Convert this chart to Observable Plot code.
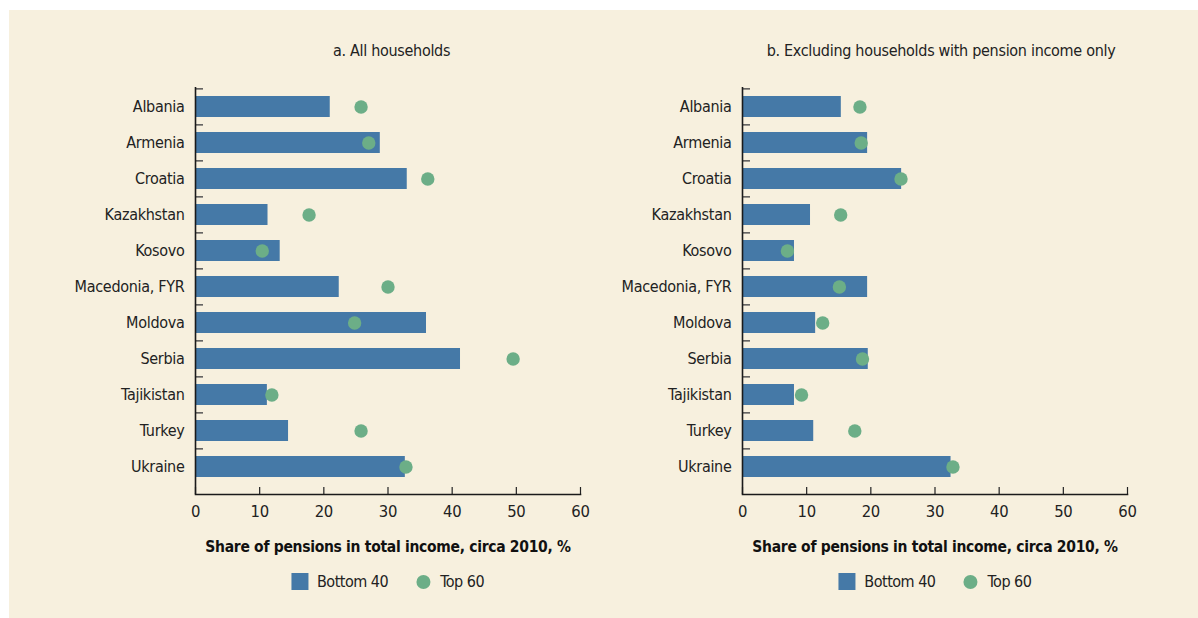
<!DOCTYPE html>
<html>
<head>
<meta charset="utf-8">
<script src="https://cdn.jsdelivr.net/npm/d3@7"></script>
<script src="https://cdn.jsdelivr.net/npm/@observablehq/plot@0.6"></script>
<style>
  html, body { margin: 0; padding: 0; background: #ffffff; }
  body { width: 1198px; height: 618px; position: relative; overflow: hidden;
         font-family: "Liberation Sans Narrow", "DejaVu Sans Condensed", "Roboto Condensed", Roboto, sans-serif; }
  #bg { position: absolute; left: 9px; top: 10px; width: 1189px; height: 608px; background: #f7f0de; }
  .panel { position: absolute; top: 0; }
  .panel svg text { letter-spacing: -0.3px; }
  .panel svg text.axis-title { letter-spacing: -0.45px; }
  .legend { position: absolute; top: 572px; display: flex; align-items: center; transform: translateX(-50%);
            font-size: 16px; letter-spacing: -0.5px; color: #222; white-space: nowrap; }
  .sw-bar { width: 17px; height: 17px; background: #4579a7; margin-right: 9px; }
  .sw-dot { width: 14px; height: 14px; border-radius: 50%; background: #6cae87; margin-left: 28px; margin-right: 10px; }
</style>
</head>
<body>
<div id="bg"></div>
<div id="root"></div>
<script>
// ---- data ----
const countries = ["Albania", "Armenia", "Croatia", "Kazakhstan", "Kosovo", "Macedonia, FYR",
                   "Moldova", "Serbia", "Tajikistan", "Turkey", "Ukraine"];
const allBottom40  = [21.0, 28.8, 33.0, 11.3, 13.2, 22.4, 36.0, 41.3, 11.2, 14.5, 32.7];
const allTop60     = [25.8, 27.0, 36.2, 17.7, 10.4, 30.0, 24.8, 49.5, 11.9, 25.8, 32.8];
const exclBottom40 = [15.4, 19.5, 24.8, 10.6, 8.1, 19.5, 11.4, 19.6, 8.1, 11.1, 32.5];
const exclTop60    = [18.3, 18.5, 24.7, 15.3, 7.0, 15.1, 12.5, 18.7, 9.2, 17.5, 32.8];
const xTicks = [0, 10, 20, 30, 40, 50, 60];
const panelTitles = ["a. All households", "b. Excluding households with pension income only"];
const axisTitle = "Share of pensions in total income, circa 2010, %";
const seriesNames = ["Bottom 40", "Top 60"];

// ---- styling ----
const barColor = "#4579a7";
const dotColor = "#6cae87";
const textColor = "#222222";
const FONT = '"Liberation Sans Narrow", "DejaVu Sans Condensed", "Roboto Condensed", Roboto, sans-serif';

const W = 599, H = 560, mL = 195, mR = 19, mT = 87, mB = 66, insetB = 7.7;
const step = (H - mB - insetB - mT) / countries.length;

function panel(bottom, top, title, titleDx) {
  const rows = countries.map((c, i) => ({country: c, bottom: bottom[i], top: top[i]}));
  return Plot.plot({
    width: W, height: H,
    marginLeft: mL, marginRight: mR, marginTop: mT, marginBottom: mB,
    style: {background: "transparent", fontFamily: FONT, fontSize: "16px", color: textColor, overflow: "visible"},
    x: {domain: [0, 60], label: null},
    y: {domain: countries, paddingInner: 0.42, paddingOuter: 0.21, insetBottom: insetB, label: null},
    marks: [
      Plot.barX(rows, {y: "country", x: "bottom", fill: barColor}),
      Plot.dot(rows, {y: "country", x: "top", r: 6.7, fill: dotColor, stroke: "none"}),
      // band separator ticks (inward)
      Plot.axisY({tickSize: 8, dx: 8, dy: -step / 2, stroke: "#555", strokeWidth: 1.5, tickFormat: () => "", label: null}),
      // category labels
      Plot.axisY({tickSize: 0, tickPadding: 11, fontSize: 16, label: null}),
      // x ticks (inward) and labels
      Plot.axisX({ticks: xTicks, tickSize: 7, dy: -7, stroke: "#222", strokeWidth: 1.2, tickFormat: () => "", label: null}),
      Plot.axisX({ticks: xTicks, tickSize: 0, tickPadding: 11, fontSize: 16.5, label: null}),
      Plot.ruleX([0], {stroke: "#1a1a1a", strokeWidth: 1.6}),
      Plot.frame({anchor: "bottom", stroke: "#1a1a1a", strokeWidth: 1.6}),
      Plot.text([title], {frameAnchor: "top", dy: -37, dx: titleDx, lineAnchor: "middle", fontSize: 16, fill: textColor}),
      Plot.text([axisTitle], {frameAnchor: "bottom", dy: 53, lineAnchor: "middle", fontSize: 15.5, fontWeight: "bold", fill: "#111", className: "axis-title"})
    ]
  });
}

const root = document.getElementById("root");
const offsets = [0, 547.4];
const data = [[allBottom40, allTop60], [exclBottom40, exclTop60]];
const titleDx = [3.5, 6];
offsets.forEach((off, k) => {
  const wrap = document.createElement("div");
  wrap.className = "panel";
  wrap.style.left = off + "px";
  wrap.appendChild(panel(data[k][0], data[k][1], panelTitles[k], titleDx[k]));
  root.appendChild(wrap);

  const lg = document.createElement("div");
  lg.className = "legend";
  lg.style.left = (off + mL + (W - mL - mR) / 2) + "px";
  lg.innerHTML = `<div class="sw-bar"></div><span>${seriesNames[0]}</span><div class="sw-dot"></div><span>${seriesNames[1]}</span>`;
  root.appendChild(lg);
});
</script>
</body>
</html>
